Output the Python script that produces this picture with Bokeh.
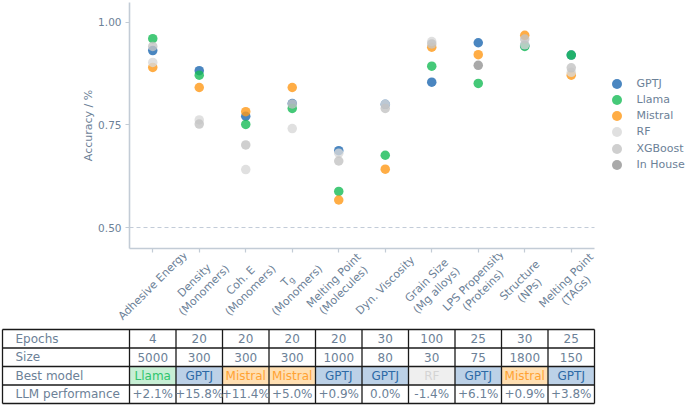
import math
from bokeh.plotting import figure
from bokeh.models import (Range1d, FixedTicker, Legend, LegendItem, NumeralTickFormatter)
from bokeh.layouts import column
from bokeh.embed import file_html
from bokeh.resources import INLINE
from bokeh.core.properties import value

FONT = "DejaVu Sans"
TXT = "#6c8197"
AXC = "#c3ccd6"

# ---------------- data ----------------
categories = ["Adhesive Energy", "Density\n(Monomers)", "Coh. E\n(Monomers)", "T_g\n(Monomers)",
              "Melting Point\n(Molecules)", "Dyn. Viscosity", "Grain Size\n(Mg alloys)",
              "LPS Propensity\n(Proteins)", "Structure\n(NPs)", "Melting Point\n(TAGs)"]
NaN = float("nan")
gptj = [0.931, 0.882, 0.771, 0.802, 0.687, 0.800, 0.854, 0.950, 0.943, 0.920]
llama = [0.960, 0.871, 0.751, 0.790, 0.588, 0.676, 0.893, 0.851, 0.941, 0.920]
mistral = [0.890, 0.841, 0.782, 0.841, 0.567, 0.642, 0.939, 0.921, 0.968, 0.871]
rf = [0.902, 0.762, 0.641, 0.741, 0.681, 0.800, 0.953, NaN, 0.945, 0.878]
xgboost = [0.941, 0.752, 0.701, 0.801, 0.662, 0.790, 0.947, NaN, 0.959, 0.889]
inhouse = [NaN, NaN, NaN, NaN, NaN, NaN, NaN, 0.895, NaN, NaN]

series_names = ["GPTJ", "Llama", "Mistral", "RF", "XGBoost", "In House"]
series_values = [gptj, llama, mistral, rf, xgboost, inhouse]
series_colors = ["#1d68b0", "#16bb56", "#ff9816", "#d8d8d8", "#c3c3c3", "#939393"]

y_ticks = [0.50, 0.75, 1.00]
baseline_level = 0.50

row_labels = ["Epochs", "Size", "Best model", "LLM performance"]
epochs = ["4", "20", "20", "20", "20", "30", "100", "25", "30", "25"]
sizes = ["5000", "300", "300", "300", "1000", "80", "30", "75", "1800", "150"]
best_model = ["Llama", "GPTJ", "Mistral", "Mistral", "GPTJ", "GPTJ", "RF", "GPTJ", "Mistral", "GPTJ"]
llm_perf = ["+2.1%", "+15.8%", "+11.4%", "+5.0%", "+0.9%", "0.0%", "-1.4%", "+6.1%", "+0.9%", "+3.8%"]
cell_fill = {"Llama": "#c7efd5", "GPTJ": "#bcd1e7", "Mistral": "#ffdfb2", "RF": "#efefef"}
cell_text = {"Llama": "#2fc46c", "GPTJ": "#2d6aa6", "Mistral": "#ffa233", "RF": "#d4d4d4"}

x_pos = list(range(len(categories)))

# ---------------- layout constants (pixels) ----------------
W, H = 685, 405
FR_L, FR_R, FR_T, FR_B = 129, 594, 2, 248
H1 = 253
H2 = H - H1
COLW = (FR_R - FR_L) / len(categories)
X0, X1 = -0.5, len(categories) - 0.5

# ---------------- main plot ----------------
YLO, YHI = 0.4489, 1.048
p = figure(width=W, height=H1, x_range=Range1d(X0, X1 + (W - FR_R) / COLW),
           y_range=Range1d(YLO, YHI),
           min_border_left=FR_L, min_border_right=0, min_border_top=FR_T,
           min_border_bottom=H1 - FR_B,
           output_backend="svg", toolbar_location=None)
p.xgrid.visible = False
p.ygrid.visible = False
p.outline_line_color = None

# dashed reference line at 0.5 across the plotting region
p.segment(x0=[X0], x1=[X1], y0=[baseline_level], y1=[baseline_level],
          line_color="#c3ccd8", line_dash="4 3", line_width=1)

renderers = []
for name, vals, col in zip(series_names, series_values, series_colors):
    xs = [x for x, v in zip(x_pos, vals) if not math.isnan(v)]
    ys = [v for v in vals if not math.isnan(v)]
    r = p.scatter(x=xs, y=ys, size=9.5, marker="circle", fill_color=col, line_color=None,
                  fill_alpha=0.8)
    renderers.append((name, r))

for ax in (p.xaxis, p.yaxis):
    ax.axis_line_color = AXC
    ax.axis_line_width = 1.6
    ax.major_tick_line_color = AXC
    ax.major_tick_line_width = 1.2
    ax.major_tick_in = 0
    ax.major_tick_out = 4
    ax.minor_tick_line_color = None
    ax.major_label_text_font = FONT
    ax.major_label_text_color = TXT

p.xaxis.bounds = (X0, X1)
p.xaxis.ticker = FixedTicker(ticks=x_pos)
p.xaxis.major_label_overrides = {i: "" for i in x_pos}
p.xaxis.major_label_text_font_size = "0px"
p.xaxis.major_label_standoff = 0
p.yaxis.ticker = FixedTicker(ticks=y_ticks)
p.yaxis.formatter = NumeralTickFormatter(format="0.00")
p.yaxis.major_label_text_font_size = "10.5px"
p.yaxis.major_label_standoff = 4
p.yaxis.axis_label = "Accuracy / %"
p.yaxis.axis_label_text_font = FONT
p.yaxis.axis_label_text_font_size = "11px"
p.yaxis.axis_label_text_font_style = "normal"
p.yaxis.axis_label_text_color = TXT
p.yaxis.axis_label_standoff = 0

# legend: one single-item Legend per series so markers can be ~10 px at a 16 px pitch
MARK_CX, FIRST_CY, PITCH, TEXT_X = 616, 83.3, 16.2, 636
BOX = 25  # legend marker is drawn at 0.4 * box -> ~10 px
leg_left = MARK_CX - BOX / 2
for k, (name, r) in enumerate(renderers):
    cy = FIRST_CY + k * PITCH
    lg = Legend(items=[LegendItem(label=name, renderers=[r])],
                orientation="vertical", border_line_color=None,
                background_fill_alpha=0, padding=0, margin=0, spacing=0,
                glyph_width=BOX, glyph_height=BOX, label_height=BOX,
                label_standoff=int(round(TEXT_X - leg_left - BOX)),
                label_text_font=FONT, label_text_font_size="11px", label_text_color=TXT,
                location=(leg_left - FR_L, FR_B - (cy + BOX / 2)))
    p.add_layout(lg, "center")

# ---------------- bottom figure: category labels + table ----------------
XL = X0 - FR_L / COLW
XR = X1 + (W - FR_R) / COLW
bp = figure(width=W, height=H2, x_range=Range1d(XL, XR), y_range=Range1d(0, H2),
            min_border=0, min_border_left=0, min_border_right=0, min_border_top=0,
            min_border_bottom=0, x_axis_location=None, y_axis_location=None,
            output_backend="svg", toolbar_location=None)
bp.xgrid.visible = False
bp.ygrid.visible = False
bp.outline_line_color = None
for fig in (p, bp):
    try:
        fig.frame_align = False
    except Exception:
        pass


def Y(y_abs):
    """absolute canvas y (down) -> bottom-figure data y (up)"""
    return H - y_abs


# rotated category labels, each line placed separately around the label centre
c45 = math.cos(math.pi / 4)
LH = 14.0
LABEL_CY = 285.0
lx, ly, lt, lfs = [], [], [], []
for i, cat in enumerate(categories):
    lines = cat.split("\n")
    n = len(lines)
    for k, line in enumerate(lines):
        d = (k - (n - 1) / 2) * LH
        dx = d * c45
        dy = -d * c45
        if line == "T_g":
            parts = [("T", -2.6, 0.0, "11px"), ("g", 3.4, -2.5, "8.5px")]
            for t, along, perp, fs in parts:
                ex = dx + along * c45 - perp * c45
                ey = dy + along * c45 + perp * c45
                lx.append(i + ex / COLW)
                ly.append(Y(LABEL_CY) + ey)
                lt.append(t)
                lfs.append(fs)
        else:
            lx.append(i + dx / COLW)
            ly.append(Y(LABEL_CY) + dy)
            lt.append(line)
            lfs.append("11px")
for fs in sorted(set(lfs)):
    idx = [j for j, f in enumerate(lfs) if f == fs]
    bp.text(x=[lx[j] for j in idx], y=[ly[j] for j in idx], text=[lt[j] for j in idx],
            angle=math.pi / 4, text_align="center", text_baseline="middle",
            text_font=value(FONT), text_font_size=fs, text_color=TXT)

# table geometry
T_TOP, ROWH = 329.0, 18.5
T_LEFT = XL + 2 / COLW
T_RIGHT = X1
nrows = len(row_labels)


def row_y(r):
    return Y(T_TOP + ROWH * r)


bp.quad(left=[x - 0.5 for x in x_pos], right=[x + 0.5 for x in x_pos],
        top=[row_y(2)] * len(x_pos), bottom=[row_y(3)] * len(x_pos),
        fill_color=[cell_fill[m] for m in best_model], line_color=None)

vx = [T_LEFT] + [x - 0.5 for x in x_pos] + [T_RIGHT]
bp.segment(x0=vx, x1=vx, y0=[row_y(0)] * len(vx), y1=[row_y(nrows)] * len(vx),
           line_color="#1a1a1a", line_width=1.3)
hy = [row_y(r) for r in range(nrows + 1)]
bp.segment(x0=[T_LEFT] * len(hy), x1=[T_RIGHT] * len(hy), y0=hy, y1=hy,
           line_color="#1a1a1a", line_width=1.3)

bp.text(x=[T_LEFT + 13 / COLW] * nrows, y=[row_y(r + 0.5) for r in range(nrows)],
        text=row_labels, text_align="left", text_baseline="middle", text_font=value(FONT),
        text_font_size="12px", text_color=TXT)
cells_x, cells_y, cells_t, cells_c = [], [], [], []
for i in x_pos:
    for r, (t, c) in enumerate([(epochs[i], TXT), (sizes[i], TXT),
                                (best_model[i], cell_text[best_model[i]]), (llm_perf[i], TXT)]):
        cells_x.append(i)
        cells_y.append(row_y(r + 0.5))
        cells_t.append(t)
        cells_c.append(c)
bp.text(x=cells_x, y=cells_y, text=cells_t, text_color=cells_c, text_align="center",
        text_baseline="middle", text_font=value(FONT), text_font_size="12px")

layout = column(p, bp, spacing=0)
open("out.html", "w").write(file_html(layout, INLINE))
